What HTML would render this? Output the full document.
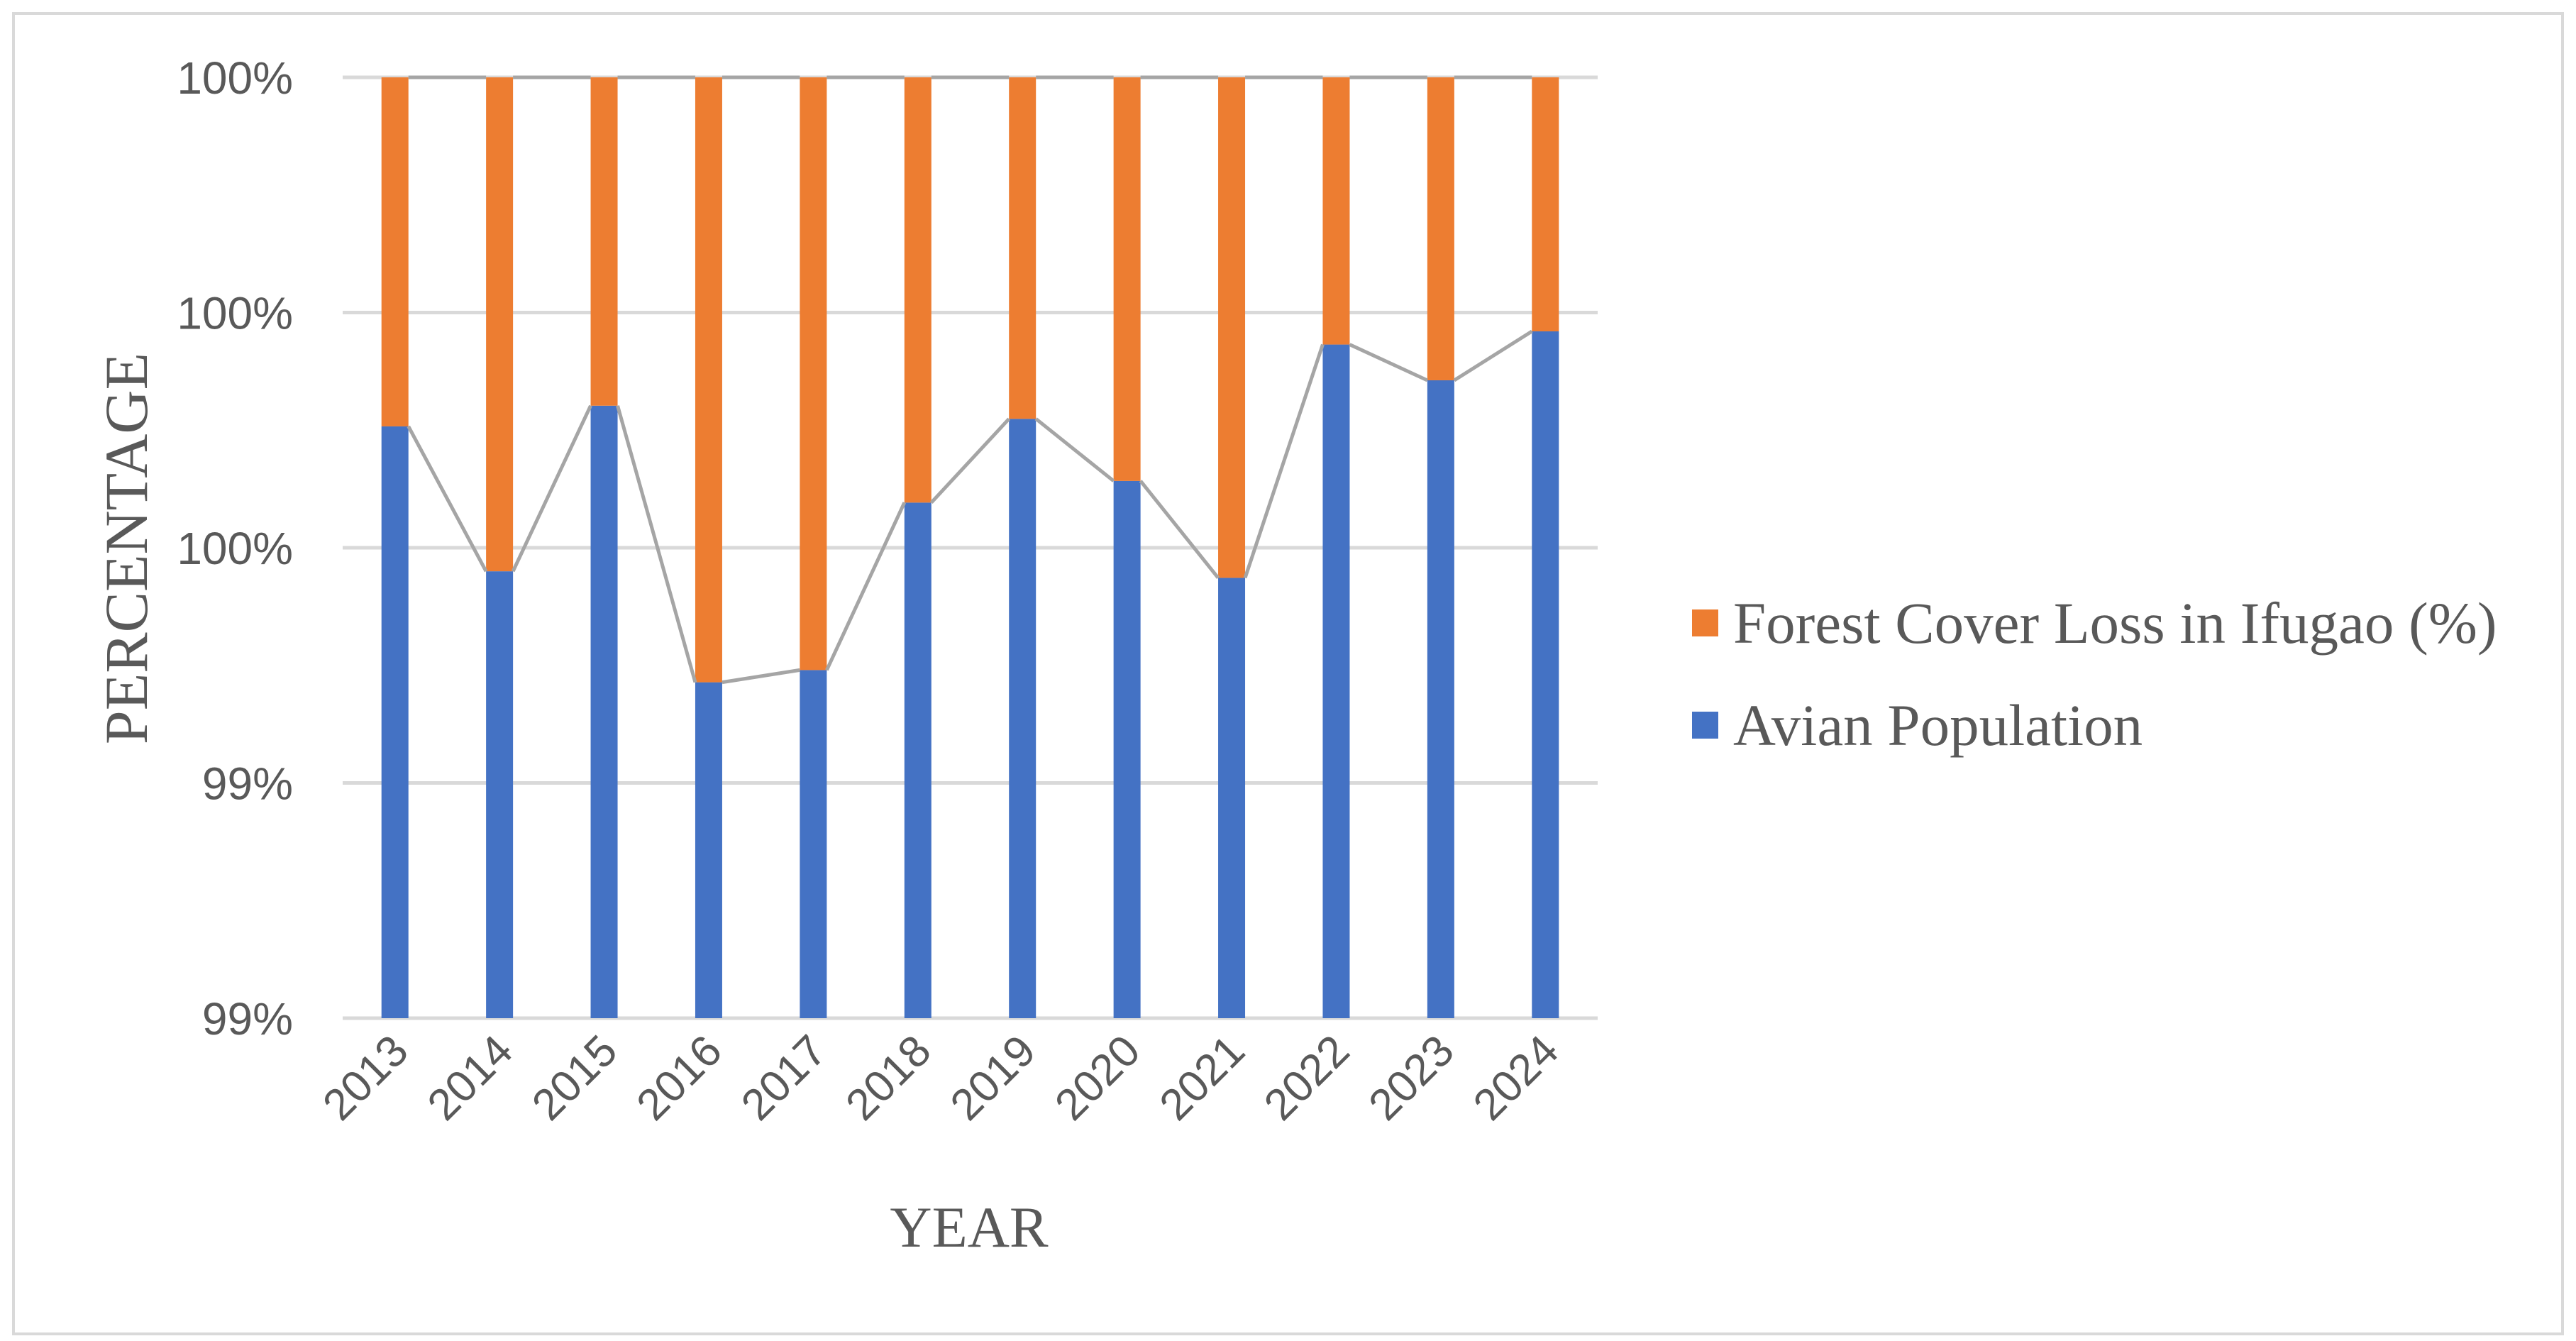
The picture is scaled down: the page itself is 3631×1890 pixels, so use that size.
<!DOCTYPE html>
<html><head><meta charset="utf-8"><style>
html,body{margin:0;padding:0;background:#fff;}
svg{display:block;}
</style></head><body>
<svg id="chart" width="3631" height="1890" viewBox="0 0 3631 1890" xmlns="http://www.w3.org/2000/svg">
<rect x="19" y="19" width="3593" height="1861" fill="#fff" stroke="#d9d9d9" stroke-width="4"/>
<g id="grid"></g>
<g id="bars"></g>
<g id="lines"></g>
<g id="ylabels"></g>
<g id="xlabels"></g>
<text transform="translate(207,773) rotate(-90)" text-anchor="middle" font-family="Liberation Serif, serif" font-size="86" fill="#595959">PERCENTAGE</text>
<text x="1366" y="1757" text-anchor="middle" font-family="Liberation Serif, serif" font-size="82" fill="#595959">YEAR</text>
<g>
<rect x="2385" y="859" width="37" height="38" fill="#ED7D31"/>
<text x="2443" y="906" font-family="Liberation Serif, serif" font-size="83" fill="#595959">Forest Cover Loss in Ifugao (%)</text>
<rect x="2385" y="1003" width="37" height="38" fill="#4472C4"/>
<text x="2443" y="1050" font-family="Liberation Serif, serif" font-size="83" fill="#595959">Avian Population</text>
</g>
</svg>
<script>
const categories = ["2013","2014","2015","2016","2017","2018","2019","2020","2021","2022","2023","2024"];
const avian = [99.629,99.475,99.651,99.357,99.370,99.548,99.637,99.571,99.468,99.716,99.678,99.730];
const axisMax = 100.0;
const tickValues = [99.0,99.25,99.5,99.75,100.0];
const tickLabels = ["99%","99%","100%","100%","100%"];
const forest = avian.map(v => axisMax - v);

const NS = "http://www.w3.org/2000/svg";
const X0 = 483, X1 = 2252, Y0 = 1435, Y1 = 109;
const yMin = tickValues[0], yMax = tickValues[tickValues.length-1];
const step = (X1 - X0) / categories.length;
const bw = 38;
function y(v){ return Y0 - (v - yMin) / (yMax - yMin) * (Y0 - Y1); }
function xc(i){ return X0 + step * (i + 0.5); }
function mk(tag, attrs, parent){ const e = document.createElementNS(NS, tag); for (const k in attrs) e.setAttribute(k, attrs[k]); parent.appendChild(e); return e; }

const grid = document.getElementById('grid');
const yl = document.getElementById('ylabels');
tickValues.forEach((t, i) => {
  const l = mk('line', {x1: X0, x2: X1, y1: y(t), y2: y(t), stroke: '#d9d9d9', 'stroke-width': 5}, grid);
  
  
  const tx = mk('text', {x: 413, y: y(t) + 23, 'text-anchor': 'end', 'font-family': 'Liberation Sans, sans-serif', 'font-size': 64, fill: '#595959'}, yl);
  tx.textContent = tickLabels[i];
  
  
});

const bars = document.getElementById('bars');
const lines = document.getElementById('lines');
const xl = document.getElementById('xlabels');
categories.forEach((c, i) => {
  const x = xc(i) - bw / 2;
  const ya = y(avian[i]);
  const yt = y(avian[i] + forest[i]);
  const b = mk('rect', {x: x, y: ya, width: bw, height: Y0 - ya, fill: '#4472C4'}, bars);
  
  
  const o = mk('rect', {x: x, y: yt, width: bw, height: ya - yt, fill: '#ED7D31'}, bars);
  
  
  const tx = mk('text', {x: 0, y: 0, 'text-anchor': 'end', 'font-family': 'Liberation Sans, sans-serif', 'font-size': 62, fill: '#595959', transform: 'translate(' + (xc(i) + 22) + ',' + (Y0 + 50) + ') rotate(-45)'}, xl);
  tx.textContent = c;
  
  
  if (i < categories.length - 1) {
    const xr = xc(i) + bw / 2, xn = xc(i + 1) - bw / 2;
    const s1 = mk('line', {x1: xr, y1: ya, x2: xn, y2: y(avian[i + 1]), stroke: '#a5a5a5', 'stroke-width': 5}, lines);
    
    
    const s2 = mk('line', {x1: xr, y1: yt, x2: xn, y2: y(avian[i + 1] + forest[i + 1]), stroke: '#a5a5a5', 'stroke-width': 5}, lines);
    
    
  }
});
</script>
</body></html>
